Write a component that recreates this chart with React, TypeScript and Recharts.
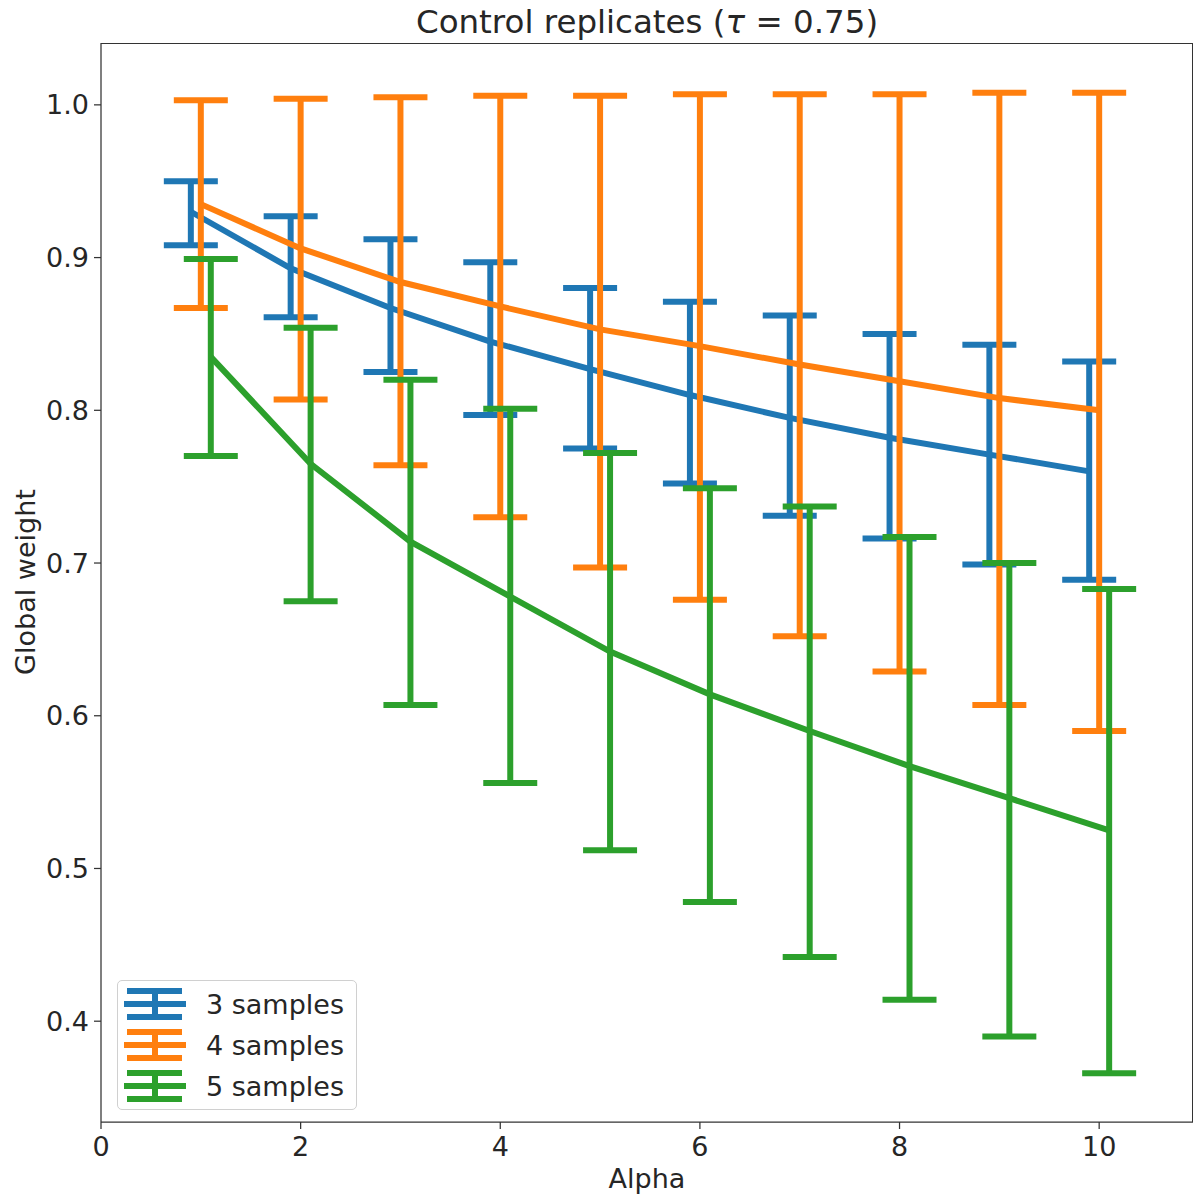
import { ComposedChart, Line, ErrorBar, XAxis, YAxis } from "recharts";

// alpha values on the x axis
const alphas = [1, 2, 3, 4, 5, 6, 7, 8, 9, 10];

// 3 samples
const mean3 = [0.93, 0.893, 0.867, 0.845, 0.827, 0.81, 0.795, 0.782, 0.771, 0.76];
const low3 = [0.908, 0.861, 0.825, 0.797, 0.775, 0.752, 0.731, 0.716, 0.699, 0.689];
const high3 = [0.95, 0.927, 0.912, 0.897, 0.88, 0.871, 0.862, 0.85, 0.843, 0.832];

// 4 samples
const mean4 = [0.935, 0.906, 0.884, 0.868, 0.853, 0.842, 0.83, 0.819, 0.808, 0.8];
const low4 = [0.867, 0.807, 0.764, 0.73, 0.697, 0.676, 0.652, 0.629, 0.607, 0.59];
const high4 = [1.003, 1.004, 1.005, 1.006, 1.006, 1.007, 1.007, 1.007, 1.008, 1.008];

// 5 samples
const mean5 = [0.835, 0.765, 0.714, 0.678, 0.642, 0.614, 0.59, 0.567, 0.546, 0.525];
const low5 = [0.77, 0.675, 0.607, 0.556, 0.512, 0.478, 0.442, 0.414, 0.39, 0.366];
const high5 = [0.899, 0.854, 0.82, 0.801, 0.772, 0.749, 0.737, 0.717, 0.7, 0.683];

const xTicks = [0, 2, 4, 6, 8, 10];
const yTicks = [0.4, 0.5, 0.6, 0.7, 0.8, 0.9, 1.0];

const FONT = "'DejaVu Sans', sans-serif";
const INK = "#262626";
const SPINE = "#333";

// plot box inside the 1195x1201 frame
const PLOT = { left: 101, top: 43, width: 1092, height: 1079 };

type Point = { alpha: number; value: number; err: [number, number] };

// points are nudged sideways per series so the bars don't overlap
const build = (shift: number, mean: number[], low: number[], high: number[]): Point[] =>
  alphas.map((a, i) => ({
    alpha: a + shift,
    value: mean[i],
    err: [mean[i] - low[i], high[i] - mean[i]],
  }));

const series = [
  { name: "3 samples", color: "#1f77b4", data: build(-0.1, mean3, low3, high3) },
  { name: "4 samples", color: "#ff7f0e", data: build(0, mean4, low4, high4) },
  { name: "5 samples", color: "#2ca02c", data: build(0.1, mean5, low5, high5) },
];

const tickStyle = { fontSize: 27, fill: INK, fontFamily: FONT };

function LegendBox() {
  return (
    <div
      style={{
        position: "absolute",
        left: 117,
        top: 980,
        width: 240,
        height: 130,
        border: "1.5px solid #d0d0d0",
        borderRadius: 5,
        background: "rgba(255,255,255,0.8)",
        boxSizing: "border-box",
      }}
    >
      {series.map((s, i) => (
        <div
          key={s.name}
          style={{ position: "absolute", left: 0, top: 3 + i * 41, height: 41, display: "flex", alignItems: "center" }}
        >
          <svg width={80} height={41} style={{ display: "block" }}>
            <line x1={6} x2={68} y1={20} y2={20} stroke={s.color} strokeWidth={6} />
            <line x1={37} x2={37} y1={7} y2={33} stroke={s.color} strokeWidth={6} />
            <line x1={9} x2={64} y1={7} y2={7} stroke={s.color} strokeWidth={6} />
            <line x1={9} x2={64} y1={33} y2={33} stroke={s.color} strokeWidth={6} />
          </svg>
          <span style={{ marginLeft: 8, fontSize: 27, fontFamily: FONT, color: INK, whiteSpace: "nowrap" }}>
            {s.name}
          </span>
        </div>
      ))}
    </div>
  );
}

export default function App() {
  return (
    <div style={{ position: "absolute", left: 0, top: 0, width: 1195, height: 1201, background: "#fff" }}>
      <ComposedChart width={1195} height={1201} margin={{ top: PLOT.top, right: 2, bottom: 0, left: 0 }}>
        <XAxis
          dataKey="alpha"
          type="number"
          domain={[0, 10.94]}
          ticks={xTicks}
          allowDataOverflow
          height={79}
          tickSize={7}
          tickMargin={8}
          tick={tickStyle}
          stroke={SPINE}
          strokeWidth={1.25}
        />
        <YAxis
          type="number"
          domain={[0.334, 1.0405]}
          ticks={yTicks}
          allowDataOverflow
          width={PLOT.left}
          tickSize={7}
          tickMargin={5}
          tick={tickStyle}
          tickFormatter={(v: number) => v.toFixed(1)}
          stroke={SPINE}
          strokeWidth={1.25}
        />
        {series.map((s) => (
          <Line
            key={s.name}
            data={s.data}
            dataKey="value"
            name={s.name}
            stroke={s.color}
            strokeWidth={6}
            dot={false}
            activeDot={false}
            type="linear"
            isAnimationActive={false}
          >
            <ErrorBar dataKey="err" direction="y" width={27} stroke={s.color} strokeWidth={6} isAnimationActive={false} />
          </Line>
        ))}
      </ComposedChart>

      {/* top and right spines of the axes box */}
      <div
        style={{
          position: "absolute",
          left: PLOT.left,
          top: PLOT.top,
          width: PLOT.width,
          height: PLOT.height,
          borderTop: `1.25px solid ${SPINE}`,
          borderRight: `1.25px solid ${SPINE}`,
          boxSizing: "border-box",
          pointerEvents: "none",
        }}
      />

      <div
        style={{
          position: "absolute",
          left: PLOT.left,
          width: PLOT.width,
          top: 3,
          textAlign: "center",
          fontFamily: FONT,
          fontSize: 32.5,
          color: INK,
          whiteSpace: "nowrap",
        }}
      >
        Control replicates (<i>τ</i> = 0.75)
      </div>
      <div
        style={{
          position: "absolute",
          left: PLOT.left,
          width: PLOT.width,
          top: 1163,
          textAlign: "center",
          fontFamily: FONT,
          fontSize: 27,
          color: INK,
        }}
      >
        Alpha
      </div>
      <div
        style={{
          position: "absolute",
          left: 25,
          top: 582,
          transform: "translate(-50%, -50%) rotate(-90deg)",
          fontFamily: FONT,
          fontSize: 27,
          color: INK,
          whiteSpace: "nowrap",
        }}
      >
        Global weight
      </div>
      <LegendBox />
    </div>
  );
}
